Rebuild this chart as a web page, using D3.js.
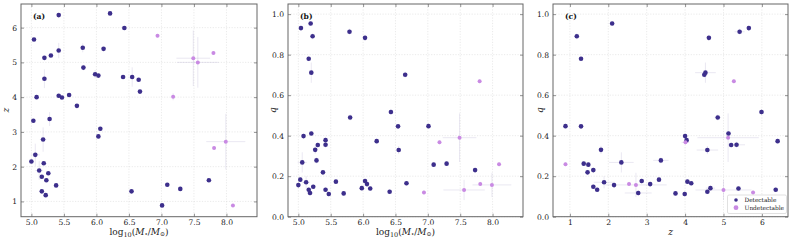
<!DOCTYPE html>
<html><head><meta charset="utf-8">
<script src="https://cdn.jsdelivr.net/npm/d3@7"></script>
<style>body{margin:0;background:#fff}svg{display:block}</style>
</head><body>
<svg id="c" width="793" height="241"></svg>
<script>
// ---- data ----
const logM = [5.42,6.21,6.43,5.04,5.79,6.11,5.42,5.30,5.20,5.80,5.98,6.03,5.20,6.41,6.55,6.65,6.67,5.08,5.42,5.47,5.58,5.70,5.03,5.28,6.06,6.03,5.18,5.06,5.00,5.19,5.12,5.16,5.26,5.23,5.38,5.16,5.22,6.54,7.09,7.29,7.73,7.01,
              6.94,7.49,7.80,7.56,7.18,7.99,7.81,8.10];
const zVals = [6.36,6.41,5.99,5.66,5.42,5.39,5.34,5.20,5.13,4.85,4.66,4.62,4.53,4.58,4.58,4.50,4.16,4.00,4.04,3.99,4.06,3.75,3.32,3.37,3.09,2.87,2.78,2.34,2.15,2.10,1.89,1.71,1.81,1.61,1.46,1.29,1.18,1.29,1.48,1.36,1.61,0.885,
               5.77,5.12,5.27,5.00,4.01,2.72,2.54,0.885];
const qVals = [0.133,0.373,0.517,0.931,0.913,0.139,0.355,0.354,0.411,0.490,0.141,0.883,0.711,0.123,0.329,0.701,0.165,0.398,0.378,0.112,0.173,0.115,0.183,0.278,0.161,0.176,0.117,0.268,0.156,0.954,0.170,0.133,0.330,0.148,0.219,0.780,0.891,0.446,0.257,0.262,0.230,0.447,
               0.120,0.390,0.669,0.132,0.367,0.157,0.162,0.259];
const detectable = [1,1,1,1,1,1,1,1,1,1,1,1,1,1,1,1,1,1,1,1,1,1,1,1,1,1,1,1,1,1,1,1,1,1,1,1,1,1,1,1,1,1,
                    0,0,0,0,0,0,0,0];
const errLogM = [0.02,0.02,0.02,0.02,0.02,0.02,0.02,0.02,0.02,0.02,0.02,0.02,0.03,0.02,0.02,0.02,0.02,0.02,0.02,0.02,0.02,0.02,0.02,0.02,0.02,0.02,0.05,0.07,0.02,0.02,0.06,0.02,0.02,0.02,0.02,0.02,0.02,0.02,0.02,0.02,0.02,0.02,
                 0.02,0.26,0.02,0.32,0.02,0.30,0.02,0.02];
const errZ = [0.05,0.05,0.05,0.05,0.13,0.05,0.22,0.05,0.05,0.08,0.12,0.05,0.27,0.05,0.28,0.05,0.05,0.05,0.05,0.05,0.05,0.05,0.05,0.20,0.05,0.05,0.35,0.32,0.05,0.05,0.27,0.05,0.05,0.05,0.05,0.05,0.05,0.05,0.05,0.05,0.05,0.03,
              0.05,0.80,0.05,0.73,0.10,0.80,0.05,0.03];
const errQ = [0.012,0.012,0.015,0.012,0.015,0.012,0.015,0.012,0.012,0.015,0.012,0.015,0.05,0.012,0.02,0.015,0.012,0.012,0.012,0.012,0.012,0.012,0.012,0.015,0.012,0.012,0.015,0.05,0.012,0.012,0.03,0.012,0.02,0.012,0.012,0.012,0.015,0.012,0.012,0.012,0.012,0.012,
              0.01,0.12,0.01,0.05,0.01,0.06,0.01,0.01];
const logMTicks = [5.0,5.5,6.0,6.5,7.0,7.5,8.0];
const zTicks = [1,2,3,4,5,6];
const qTicks = [0.0,0.2,0.4,0.6,0.8,1.0];
const panelLabels = ["(a)","(b)","(c)"];
const legendLabels = ["Detectable","Undetectable"];

const pts = logM.map((m,i)=>({m, z:zVals[i], q:qVals[i], det:detectable[i], em:errLogM[i], ez:errZ[i], eq:errQ[i]}));

const colDet = "#3d2f8c", colUnd = "#c98ae3", errCol = "rgba(150,140,190,0.2)";
const font = "'DejaVu Serif', serif";
const svg = d3.select("#c");
const yTop = 4, yBot = 216.7;

const mDom = [4.84, 8.47], zDom = [0.56, 6.68], qDom = [0, 1.05];
const panels = [
  {x0:21, x1:257, xDom:mDom, yDom:zDom, xk:"m", yk:"z", exk:"em", eyk:"ez", xt:logMTicks, yt:zTicks, xf:d3.format(".1f"), yf:d3.format("d"), ylab:"z", ylx:9, xlab:"logM"},
  {x0:288, x1:523, xDom:mDom, yDom:qDom, xk:"m", yk:"q", exk:"em", eyk:"eq", xt:logMTicks, yt:qTicks, xf:d3.format(".1f"), yf:d3.format(".1f"), ylab:"q", ylx:276, xlab:"logM"},
  {x0:553, x1:788, xDom:zDom, yDom:qDom, xk:"z", yk:"q", exk:"ez", eyk:"eq", xt:zTicks, yt:qTicks, xf:d3.format("d"), yf:d3.format(".1f"), ylab:"q", ylx:543, xlab:"z"}
];

panels.forEach((p,pi)=>{
  const x = d3.scaleLinear().domain(p.xDom).range([p.x0,p.x1]);
  const y = d3.scaleLinear().domain(p.yDom).range([yBot,yTop]);
  const g = svg.append("g");
  g.append("g").selectAll("line").data(p.xt).join("line")
    .attr("x1",d=>x(d)).attr("x2",d=>x(d)).attr("y1",yTop).attr("y2",yBot)
    .attr("stroke","#dcdcdc").attr("stroke-width",0.6).attr("stroke-dasharray","1.2,1.5");
  g.append("g").selectAll("line").data(p.yt).join("line")
    .attr("y1",d=>y(d)).attr("y2",d=>y(d)).attr("x1",p.x0).attr("x2",p.x1)
    .attr("stroke","#dcdcdc").attr("stroke-width",0.6).attr("stroke-dasharray","1.2,1.5");
  const ax = [
    [d3.axisBottom(x).tickValues(p.xt).tickFormat(p.xf).tickSizeInner(-3).tickSizeOuter(0).tickPadding(2.5), `translate(0,${yBot})`],
    [d3.axisTop(x).tickValues(p.xt).tickFormat("").tickSizeInner(-3).tickSizeOuter(0), `translate(0,${yTop})`],
    [d3.axisLeft(y).tickValues(p.yt).tickFormat(p.yf).tickSizeInner(-3).tickSizeOuter(0).tickPadding(4), `translate(${p.x0},0)`],
    [d3.axisRight(y).tickValues(p.yt).tickFormat("").tickSizeInner(-3).tickSizeOuter(0), `translate(${p.x1},0)`]
  ];
  ax.forEach(([a,t])=>{
    const ag = g.append("g").attr("transform",t).call(a);
    ag.select(".domain").remove();
    ag.selectAll(".tick line").attr("stroke","#666").attr("stroke-width",0.7);
    ag.selectAll(".tick text").attr("font-family",font).attr("font-size",7.6).attr("fill","#222");
  });
  const eg = g.append("g");
  pts.forEach(d=>{
    const cx = x(d[p.xk]), cy = y(d[p.yk]);
    eg.append("line").attr("x1",x(d[p.xk]-d[p.exk])).attr("x2",x(d[p.xk]+d[p.exk])).attr("y1",cy).attr("y2",cy)
      .attr("stroke",errCol).attr("stroke-width",1);
    eg.append("line").attr("y1",y(d[p.yk]-d[p.eyk])).attr("y2",y(d[p.yk]+d[p.eyk])).attr("x1",cx).attr("x2",cx)
      .attr("stroke",errCol).attr("stroke-width",1);
  });
  g.append("g").selectAll("circle").data(pts).join("circle")
    .attr("cx",d=>x(d[p.xk])).attr("cy",d=>y(d[p.yk]))
    .attr("r",d=>d.det?2.3:2.0)
    .attr("fill",d=>d.det?colDet:colUnd);
  g.append("rect").attr("x",p.x0).attr("y",yTop).attr("width",p.x1-p.x0).attr("height",yBot-yTop)
    .attr("fill","none").attr("stroke","#666").attr("stroke-width",1);
  g.append("text").attr("x",p.x0+12).attr("y",yTop+15).text(panelLabels[pi])
    .attr("font-family",font).attr("font-size",7.6).attr("font-weight","bold").attr("fill","#111");
  g.append("text").attr("transform",`translate(${p.ylx},110) rotate(-90)`).attr("text-anchor","middle")
    .attr("font-family",font).attr("font-style","italic").attr("font-size",9).attr("fill","#222").text(p.ylab);
  const xl = g.append("text").attr("x",(p.x0+p.x1)/2).attr("y",234.5).attr("text-anchor","middle")
    .attr("font-family",font).attr("font-size",9).attr("fill","#222");
  if(p.xlab==="logM"){
    xl.append("tspan").text("log");
    xl.append("tspan").attr("font-size",6.5).attr("dy",2).text("10");
    xl.append("tspan").attr("dy",-2).text("(");
    xl.append("tspan").attr("font-style","italic").text("M");
    xl.append("tspan").attr("font-size",5.5).attr("dy",1.5).text("•");
    xl.append("tspan").attr("dy",-1.5).text("/");
    xl.append("tspan").attr("font-style","italic").text("M");
    xl.append("tspan").attr("font-size",6).attr("dy",1.8).text("⊙");
    xl.append("tspan").attr("dy",-1.8).text(")");
  } else {
    xl.attr("font-style","italic").text("z");
  }
  if(pi===2){
    const lg = g.append("g");
    lg.append("rect").attr("x",727.5).attr("y",195).attr("width",59).attr("height",18.5)
      .attr("fill","#fff").attr("fill-opacity",0.85).attr("stroke","#ccc").attr("stroke-width",0.6).attr("rx",1.5);
    legendLabels.forEach((t,i)=>{
      lg.append("circle").attr("cx",736).attr("cy",200+i*7.7).attr("r",i===0?1.8:2.4).attr("fill",i===0?colDet:colUnd);
      lg.append("text").attr("x",744.5).attr("y",202.1+i*7.7).text(t)
        .attr("font-family",font).attr("font-size",5.8).attr("fill","#222");
    });
  }
});
</script>
</body></html>
